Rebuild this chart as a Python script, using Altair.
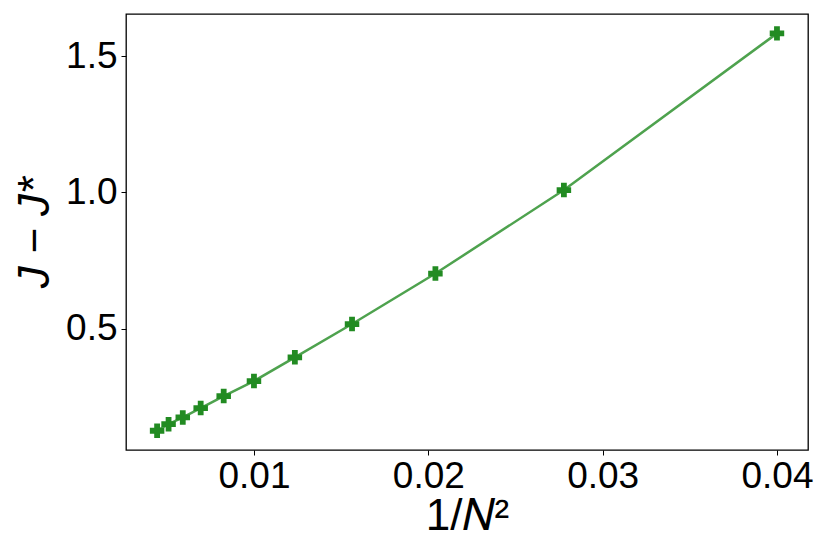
import altair as alt
import pandas as pd

inv_n2 = [0.004444, 0.005102, 0.005917, 0.006944, 0.008264, 0.0100, 0.012346, 0.015625, 0.020408, 0.027778, 0.0400]
j_diff = [0.127, 0.151, 0.176, 0.210, 0.254, 0.309, 0.396, 0.518, 0.703, 1.009, 1.583]
x_ticks = [0.01, 0.02, 0.03, 0.04]
y_ticks = [0.5, 1.0, 1.5]

df = pd.DataFrame({"x": inv_n2, "y": j_diff})

FONT = "Liberation Sans"
xs = alt.Scale(domain=[0.00266, 0.04178], nice=False, zero=False)
ys = alt.Scale(domain=[0.0565, 1.654], nice=False, zero=False)

xax = alt.Axis(values=x_ticks, format=".2f", grid=False, title="1/𝑁²",
               labelFont=FONT, labelFontSize=37, labelColor="black",
               titleFont=FONT, titleFontSize=44, titleFontWeight="normal", titleColor="black",
               tickSize=5, tickColor="black", tickWidth=1, domain=False,
               labelPadding=3, titlePadding=0, labelFlush=False)
yax = alt.Axis(values=y_ticks, format=".1f", grid=False, title="J − J*",
               labelFont=FONT, labelFontSize=37, labelColor="black",
               titleFont=FONT, titleFontSize=44, titleFontWeight="normal", titleFontStyle="italic",
               titleColor="black",
               tickSize=5, tickColor="black", tickWidth=1, domain=False,
               labelPadding=4, titlePadding=8, labelFlush=False)

base = alt.Chart(df)
line = base.mark_line(color="#228B22", opacity=0.8, strokeWidth=2.5).encode(
    x=alt.X("x:Q", scale=xs, axis=xax),
    y=alt.Y("y:Q", scale=ys, axis=yax),
)
pts = base.mark_point(shape="cross", filled=True, size=210, color="#228B22", opacity=1).encode(
    x=alt.X("x:Q", scale=xs),
    y=alt.Y("y:Q", scale=ys),
)

chart = alt.layer(line, pts).properties(
    width=682, height=436,
    background="white",
    autosize=alt.AutoSizeParams(type="none"),
    padding={"left": 118, "top": 6, "right": 14, "bottom": 90},
).configure_view(stroke="black", strokeWidth=1.3)

chart.save("out.html", embed_options={"renderer": "svg", "actions": False})
